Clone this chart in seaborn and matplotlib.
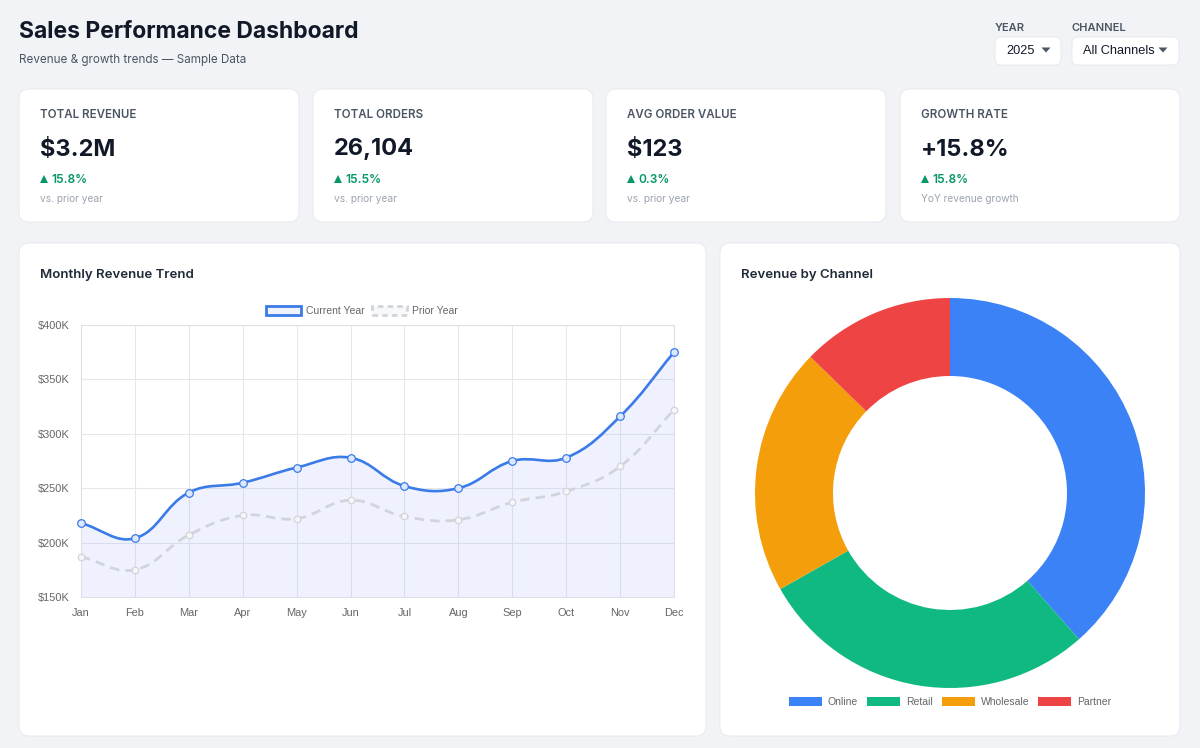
import numpy as np
import pandas as pd
import matplotlib
matplotlib.use("Agg")
import matplotlib.pyplot as plt
import seaborn as sns
from matplotlib.patches import FancyBboxPatch, Patch, PathPatch, Polygon
from matplotlib.path import Path

# ---------------- data ----------------
months = ["Jan", "Feb", "Mar", "Apr", "May", "Jun", "Jul", "Aug", "Sep", "Oct", "Nov", "Dec"]
current_year = [218, 204, 246, 255, 269, 278, 252, 250, 275, 278, 316, 375]   # $K
prior_year = [187, 175, 207, 225, 222, 239, 224, 221, 237, 247, 270, 322]     # $K
y_ticks = [150, 200, 250, 300, 350, 400]
y_tick_labels = ["$150K", "$200K", "$250K", "$300K", "$350K", "$400K"]

channels = ["Online", "Retail", "Wholesale", "Partner"]
channel_share = [38.5, 28.3, 20.5, 12.7]
channel_colors = ["#3b82f6", "#10b981", "#f59e0b", "#ef4444"]

kpi_labels = ["TOTAL REVENUE", "TOTAL ORDERS", "AVG ORDER VALUE", "GROWTH RATE"]
kpi_values = ["$3.2M", "26,104", "$123", "+15.8%"]
kpi_changes = ["15.8%", "15.5%", "0.3%", "15.8%"]
kpi_notes = ["vs. prior year", "vs. prior year", "vs. prior year", "YoY revenue growth"]

# ---------------- style ----------------
sns.set_theme(style="white")
UI = ["Inter", "DejaVu Sans"]
CJ = ["Liberation Sans", "DejaVu Sans"]
plt.rcParams["font.family"] = UI

W, H = 1200, 748
BG = "#f1f3f6"
fig = plt.figure(figsize=(W / 100, H / 100), dpi=100, facecolor=BG)


def fx(x):
    return x / W


def fy(y):
    return 1 - y / H


def card(x0, y0, x1, y1, r=0.1):
    p = FancyBboxPatch((x0 / 100, (H - y1) / 100), (x1 - x0) / 100, (y1 - y0) / 100,
                       boxstyle=f"round,pad=0,rounding_size={r}",
                       transform=fig.dpi_scale_trans, fc="white", ec="#e5e7eb",
                       lw=0.6, zorder=-5)
    fig.add_artist(p)


def T(x, y, s, size, color, weight="normal", ha="left", family=UI, **kw):
    fig.text(fx(x), fy(y), s, fontsize=size, color=color, fontweight=weight,
             ha=ha, va="center", family=family, **kw)


def tri(xc, yc, w=9, h=5, color="#4b5563", up=False):
    top = (H - yc + h / 2) / 100
    bot = (H - yc - h / 2) / 100
    if up:
        pts = [((xc - w / 2) / 100, bot), ((xc + w / 2) / 100, bot), (xc / 100, top)]
    else:
        pts = [((xc - w / 2) / 100, top), ((xc + w / 2) / 100, top), (xc / 100, bot)]
    fig.add_artist(Polygon(pts, closed=True, transform=fig.dpi_scale_trans,
                           fc=color, ec="none"))


# ---------------- header ----------------
T(19, 32, "Sales Performance Dashboard", 16.5, "#111827", weight="bold")
T(19, 60, "Revenue & growth trends \u2014 Sample Data", 8.4, "#4b5563")

T(995, 28, "YEAR", 8, "#4b5563", weight="semibold")
T(1072, 28, "CHANNEL", 8, "#4b5563", weight="semibold")
card(995, 37, 1061, 65, r=0.06)
card(1072, 37, 1179, 65, r=0.06)
T(1006, 51, "2025", 9.2, "#111827", family=CJ)
T(1083, 51, "All Channels", 9.2, "#111827", family=CJ)
tri(1046, 50)
tri(1163, 50)

# ---------------- KPI cards ----------------
kpi_x = [19, 313, 606, 900]
GREEN = "#059669"
for i, x0 in enumerate(kpi_x):
    card(x0, 89, x0 + 280, 222)
    T(x0 + 21, 115.5, kpi_labels[i], 8.3, "#4b5563", weight="semibold")
    T(x0 + 21, 149.5, kpi_values[i], 17, "#111827", weight="bold")
    tri(x0 + 25, 179, w=8, h=8, color=GREEN, up=True)
    T(x0 + 32, 180, kpi_changes[i], 8.6, GREEN, weight="semibold")
    T(x0 + 21, 199, kpi_notes[i], 7.3, "#9ca3af")

# ---------------- chart cards ----------------
card(19, 243, 706, 736)
card(720, 243, 1180, 736)
T(40, 275, "Monthly Revenue Trend", 9.5, "#1f2937", weight="semibold")
T(741, 275, "Revenue by Channel", 9.5, "#1f2937", weight="semibold")

# ---------------- line chart ----------------
L, R, TOP, BOT = 81, 674, 325, 597
ax = fig.add_axes([fx(L), fy(BOT), (R - L) / W, (BOT - TOP) / H])
ax.set_facecolor("white")
x_idx = np.arange(len(months))
ax.set_xlim(0, len(months) - 1)
ax.set_ylim(y_ticks[0], y_ticks[-1])
ax.set_xticks(x_idx)
ax.set_xticklabels(months)
ax.set_yticks(y_ticks)
ax.set_yticklabels(y_tick_labels)
grid_c = "#e5e7eb"
ax.grid(True, color=grid_c, lw=0.75)
ax.set_axisbelow(True)
for s in ax.spines.values():
    s.set_color("#dcdfe4")
    s.set_linewidth(0.75)
ax.tick_params(axis="both", length=4, width=0.75, color=grid_c, labelsize=7.9,
               labelcolor="#666666", pad=4)
for lab in ax.get_xticklabels() + ax.get_yticklabels():
    lab.set_family(CJ)


def smooth_path(xs, ys, tension=0.4):
    pts = ax.transData.transform(np.column_stack([xs, ys]))
    n = len(pts)
    cps = []
    for i in range(n):
        p0 = pts[i - 1] if i > 0 else pts[i]
        p1 = pts[i]
        p2 = pts[i + 1] if i < n - 1 else pts[i]
        d01 = np.hypot(*(p1 - p0))
        d12 = np.hypot(*(p2 - p1))
        s = d01 + d12
        s01 = d01 / s if s else 0
        s12 = d12 / s if s else 0
        cps.append((p1 - tension * s01 * (p2 - p0), p1 + tension * s12 * (p2 - p0)))
    verts = [pts[0]]
    codes = [Path.MOVETO]
    for i in range(n - 1):
        verts += [cps[i][1], cps[i + 1][0], pts[i + 1]]
        codes += [Path.CURVE4] * 3
    verts = ax.transData.inverted().transform(np.array(verts))
    return verts, codes


BLUE = "#3b7be8"
GRAY = "#d1d5db"

# fill under current year
v, c = smooth_path(x_idx, current_year)
fv = np.vstack([v, [[x_idx[-1], y_ticks[0]], [x_idx[0], y_ticks[0]], [x_idx[0], y_ticks[0]]]])
fc_codes = c + [Path.LINETO, Path.LINETO, Path.CLOSEPOLY]
ax.add_patch(PathPatch(Path(fv, fc_codes), fc="#4f6ef7", alpha=0.085, ec="none", zorder=1.5))

# prior year dashed line
vp, cp = smooth_path(x_idx, prior_year)
ax.add_patch(PathPatch(Path(vp, cp), fc="none", ec=GRAY, lw=2.0,
                       linestyle=(0, (3.4, 2.2)), zorder=2, capstyle="butt"))
# current year line
ax.add_patch(PathPatch(Path(v, c), fc="none", ec=BLUE, lw=1.9, zorder=3))

df = pd.DataFrame({"month": x_idx, "current": current_year, "prior": prior_year})
sns.scatterplot(data=df, x="month", y="prior", ax=ax, s=22, marker="o",
                facecolor="#f5f6f8", edgecolor=GRAY, linewidth=0.9, zorder=4, clip_on=False)
sns.scatterplot(data=df, x="month", y="current", ax=ax, s=30, marker="o",
                facecolor="#dce8fd", edgecolor=BLUE, linewidth=0.9, zorder=5, clip_on=False)
ax.set_xlabel("")
ax.set_ylabel("")

line_handles = [
    Patch(facecolor="#eef3fe", edgecolor=BLUE, lw=2.0, label="Current Year"),
    Patch(facecolor="#f7f8fa", edgecolor=GRAY, lw=2.0, linestyle=(0, (2, 1.5)), label="Prior Year"),
]
leg = ax.legend(handles=line_handles, loc="center", ncol=2, frameon=False,
                bbox_to_anchor=(fx(362), fy(311)), bbox_transform=fig.transFigure,
                handlelength=3.3, handleheight=1.05, handletextpad=0.5,
                columnspacing=0.75, borderpad=0, prop={"family": CJ, "size": 7.5})
for t in leg.get_texts():
    t.set_color("#666666")

# ---------------- donut ----------------
cx, cy, rad = 950, 493, 195
ax2 = fig.add_axes([fx(cx - rad), fy(cy + rad), 2 * rad / W, 2 * rad / H])
ax2.pie(channel_share, colors=channel_colors, startangle=90, counterclock=False,
        radius=1.0, wedgeprops=dict(width=0.4, linewidth=0))
ax2.set_xlim(-1, 1)
ax2.set_ylim(-1, 1)
ax2.axis("off")

pie_handles = [Patch(facecolor=col, edgecolor="none", label=lab)
               for lab, col in zip(channels, channel_colors)]
leg2 = ax2.legend(handles=pie_handles, loc="center", ncol=4, frameon=False,
                  bbox_to_anchor=(fx(950), fy(702)), bbox_transform=fig.transFigure,
                  handlelength=3.2, handleheight=0.95, handletextpad=0.55,
                  columnspacing=0.85, borderpad=0, prop={"family": CJ, "size": 7.5})
for t in leg2.get_texts():
    t.set_color("#666666")

fig.savefig("out.png", dpi=100, facecolor=BG)
